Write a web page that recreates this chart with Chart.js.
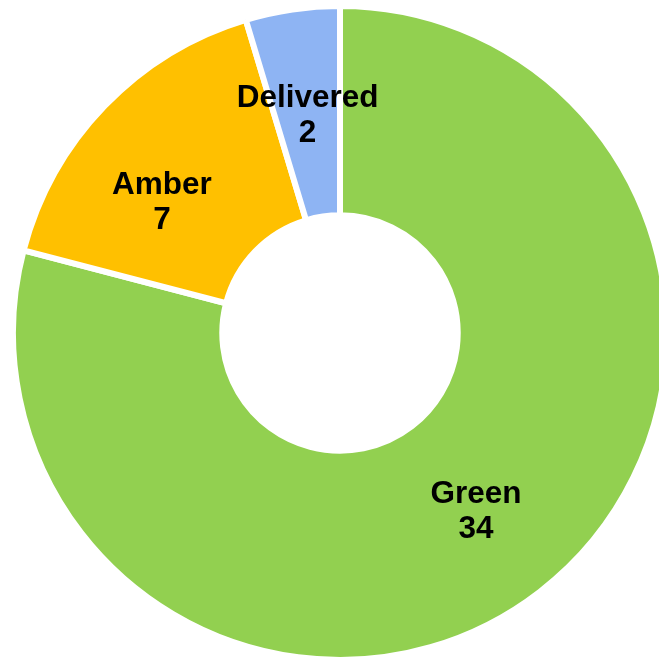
<!DOCTYPE html>
<html>
<head>
<meta charset="utf-8">
<script src="https://cdn.jsdelivr.net/npm/chart.js@4/dist/chart.umd.min.js"></script>
<style>
  html, body { margin: 0; padding: 0; background: #ffffff; overflow: hidden; width: 659px; height: 657px; }
  #wrap { position: absolute; left: 10px; top: 3px; width: 660px; height: 660px; }
</style>
</head>
<body>
<div id="wrap"><canvas id="chart"></canvas></div>
<script>
// 数据
const labels = ['Green', 'Amber', 'Delivered'];
const values = [34, 7, 2];
const colors = ['#92D050', '#FFC000', '#8EB4F3'];

// 在每个扇区中心画两行标签
const sliceLabels = {
  id: 'sliceLabels',
  afterDatasetsDraw(chart, args, opts) {
    const ctx = chart.ctx;
    const meta = chart.getDatasetMeta(0);
    const nudge = opts.nudge || [];
    ctx.save();
    ctx.fillStyle = '#000000';
    ctx.font = 'bold 31.5px "Liberation Sans", Arial, sans-serif';
    ctx.textAlign = 'center';
    ctx.textBaseline = 'middle';
    meta.data.forEach((arc, i) => {
      const pos = arc.tooltipPosition();
      const d = nudge[i] || [0, 0];
      const x = pos.x + d[0];
      const y = pos.y + d[1] + 2;
      ctx.fillText(labels[i], x, y - 17);
      ctx.fillText(String(values[i]), x, y + 18);
    });
    ctx.restore();
  }
};

new Chart(document.getElementById('chart'), {
  type: 'doughnut',
  data: {
    labels: labels,
    datasets: [{
      data: values,
      backgroundColor: colors,
      borderColor: '#ffffff',
      borderWidth: 6,
      borderJoinStyle: 'miter'
    }]
  },
  options: {
    responsive: true,
    maintainAspectRatio: false,
    animation: false,
    cutout: '36%',
    layout: { padding: 0 },
    plugins: {
      legend: { display: false },
      tooltip: { enabled: false },
      // Amber 的标签在原图里稍微偏左下
      sliceLabels: { nudge: [[0, 0], [-18, 22], [0, 0]] }
    }
  },
  plugins: [sliceLabels]
});
</script>
</body>
</html>
